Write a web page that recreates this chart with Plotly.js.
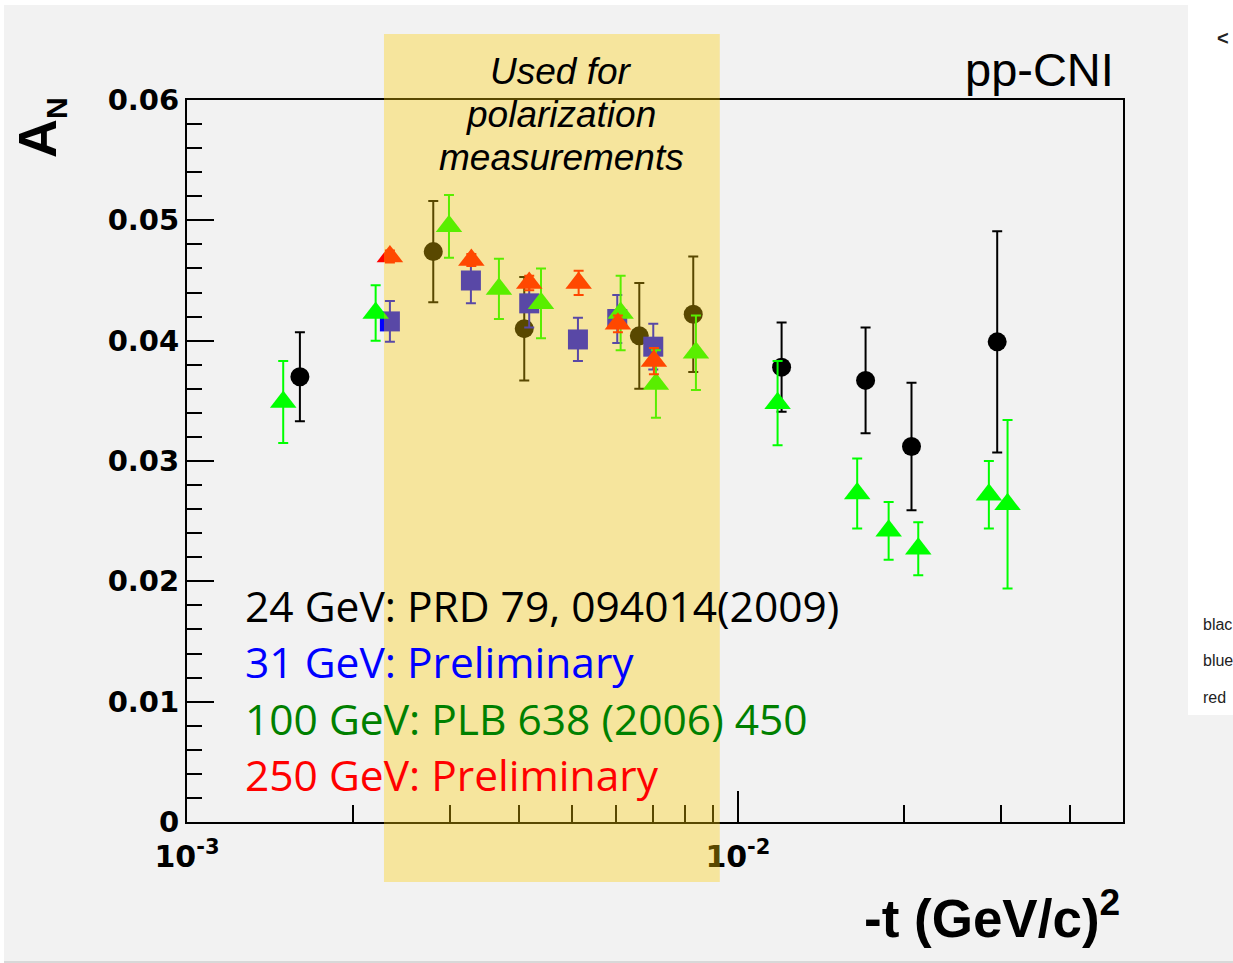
<!DOCTYPE html>
<html>
<head>
<meta charset="utf-8">
<script src="https://cdn.plot.ly/plotly-3.0.1.min.js"></script>
<style>
  html, body { margin: 0; padding: 0; background: #f2f2f2; }
  #chart { width: 1233px; height: 963px; }
</style>
</head>
<body>
<div id="chart"></div>
<script>
// Analysing power A_N in the pp Coulomb-nuclear interference region, vs -t

// 24 GeV (PRD 79, 094014 (2009))
const t24  = [0.001603, 0.002799, 0.004094, 0.006622, 0.008297, 0.012003, 0.017050, 0.020657, 0.029555];
const an24 = [0.0370, 0.0474, 0.0410, 0.0404, 0.0422, 0.0378, 0.0367, 0.0312, 0.0399];
const er24 = [0.0037, 0.0042, 0.0043, 0.0044, 0.0048, 0.0037, 0.0044, 0.0053, 0.0092];

// 31 GeV (preliminary)
const t31  = [0.002335, 0.003276, 0.004180, 0.005124, 0.006039, 0.007020];
const an31 = [0.0416, 0.0450, 0.0431, 0.0401, 0.0418, 0.0395];
const er31 = [0.0017, 0.0019, 0.0020, 0.0018, 0.0020, 0.0019];

// 100 GeV (PLB 638 (2006) 450)
const t100  = [0.001495, 0.002200, 0.002989, 0.003683, 0.004391, 0.006125, 0.007099, 0.008390,
               0.011803, 0.016462, 0.018775, 0.021249, 0.028543, 0.030861];
const an100 = [0.0349, 0.0423, 0.0495, 0.0443, 0.0431, 0.0423, 0.0364, 0.0390,
               0.0348, 0.0273, 0.0242, 0.0227, 0.0272, 0.0264];
const er100 = [0.0034, 0.0023, 0.0026, 0.0025, 0.0029, 0.0031, 0.0028, 0.0031,
               0.0035, 0.0029, 0.0024, 0.0022, 0.0028, 0.0070];

// 250 GeV (preliminary)
const t250  = [0.002335, 0.003282, 0.004180, 0.005139, 0.006056, 0.007039];
const an250 = [0.0470, 0.0467, 0.0448, 0.0448, 0.0414, 0.0383];
const er250 = [0.0005, 0.0005, 0.0006, 0.0010, 0.0007, 0.0011];

// -t window used for the polarization measurements
const bandRange = [0.002278, 0.00927];

// axis ticks
const xMajorVals = [0.001, 0.01];
const xMajorText = ['10<sup>-3</sup>', '10<sup>-2</sup>'];
const xMinorVals = [0.002, 0.003, 0.004, 0.005, 0.006, 0.007, 0.008, 0.009, 0.02, 0.03, 0.04];

const legendLines = [
  { text: '24 GeV: PRD 79, 094014(2009)', color: '#000000' },
  { text: '31 GeV: Preliminary',          color: '#0000ff' },
  { text: '100 GeV: PLB 638 (2006) 450',  color: '#008000' },
  { text: '250 GeV: Preliminary',         color: '#ff0000' }
];
const bandLabel = ['Used for', 'polarization', 'measurements'];
const sideNotes = ['blac', 'blue', 'red'];

// plot frame in pixels
const W = 1233, H = 963;
const L = 187, R = 1123, T = 100, B = 822;
const px = x => (x - L) / (R - L);
const py = y => (B - y) / (B - T);

function series(x, y, err, color, symbol, size) {
  return {
    type: 'scatter', mode: 'markers', x: x, y: y,
    marker: { color: color, symbol: symbol, size: size, line: { width: 0 } },
    error_y: { type: 'data', array: err, visible: true, color: color, thickness: 2, width: 5 },
    hoverinfo: 'x+y', cliponaxis: false
  };
}

const data = [
  series(t24,  an24,  er24,  '#000000', 'circle', 19),
  series(t31,  an31,  er31,  '#0000ff', 'square', 20),
  series(t100, an100, er100, '#00ff00', 'triangle-up', 23),
  series(t250, an250, er250, '#ff0000', 'triangle-up', 23)
];

const tickFont = { family: 'DejaVu Sans', size: 29, color: '#000', weight: 'bold' };

const annotations = [];
legendLines.forEach((l, i) => {
  annotations.push({
    xref: 'paper', yref: 'paper', x: px(243), y: py(605 + i * 56.5),
    xanchor: 'left', yanchor: 'middle', showarrow: false, text: l.text,
    font: { family: 'Open Sans', size: 42.5, color: l.color }
  });
});
bandLabel.forEach((s, i) => {
  annotations.push({
    xref: 'paper', yref: 'paper', x: px(561), y: py(71 + i * 43),
    xanchor: 'center', yanchor: 'middle', showarrow: false, text: s,
    font: { family: 'Liberation Sans', size: 37, color: '#000', style: 'italic' }
  });
});
annotations.push({
  xref: 'paper', yref: 'paper', x: px(1116), y: py(70),
  xanchor: 'right', yanchor: 'middle', showarrow: false, text: 'pp-CNI',
  font: { family: 'Liberation Sans', size: 47, color: '#000' }
});
annotations.push({
  xref: 'paper', yref: 'paper', x: px(1122), y: py(914),
  xanchor: 'right', yanchor: 'middle', showarrow: false, text: '-t (GeV/c)<sup>2</sup>',
  font: { family: 'Liberation Sans', size: 53, color: '#000', weight: 'bold' }
});
annotations.push({
  xref: 'paper', yref: 'paper', x: px(40), y: py(128),
  xanchor: 'center', yanchor: 'middle', showarrow: false, textangle: -90,
  text: 'A<sub><span style="font-size:30px">N</span></sub>',
  font: { family: 'Liberation Sans', size: 54, color: '#000', weight: 'bold' }
});
sideNotes.forEach((s, i) => {
  annotations.push({
    xref: 'paper', yref: 'paper', x: px(1201), y: py(624 + i * 36.5),
    xanchor: 'left', yanchor: 'middle', showarrow: false, text: s,
    font: { family: 'Liberation Sans', size: 16, color: '#222' }
  });
});
annotations.push({
  xref: 'paper', yref: 'paper', x: px(1231), y: py(38),
  xanchor: 'right', yanchor: 'middle', showarrow: false, text: '<',
  font: { family: 'Liberation Sans', size: 20, color: '#222', weight: 'bold' }
});

const shapes = [
  // page margins and side panel
  { type: 'rect', xref: 'paper', yref: 'paper', x0: px(-5), x1: px(1240), y0: py(5), y1: py(-5),
    fillcolor: '#ffffff', line: { width: 0 }, layer: 'below' },
  { type: 'rect', xref: 'paper', yref: 'paper', x0: px(-5), x1: px(4), y0: py(970), y1: py(-5),
    fillcolor: '#ffffff', line: { width: 0 }, layer: 'below' },
  { type: 'rect', xref: 'paper', yref: 'paper', x0: px(1188), x1: px(1240), y0: py(715), y1: py(-5),
    fillcolor: '#ffffff', line: { width: 0 }, layer: 'below' },
  { type: 'line', xref: 'paper', yref: 'paper', x0: px(4), x1: px(1240), y0: py(962), y1: py(962),
    line: { color: '#d8d8d8', width: 2 }, layer: 'below' },
  // highlighted -t window
  { type: 'rect', xref: 'x', yref: 'paper', x0: bandRange[0], x1: bandRange[1], y0: py(882), y1: py(34),
    fillcolor: 'rgba(255,206,0,0.35)', line: { width: 0 }, layer: 'above' }
];

const layout = {
  width: W, height: H,
  margin: { l: L, r: W - R, t: T, b: H - B, pad: 0 },
  paper_bgcolor: '#f2f2f2', plot_bgcolor: '#f2f2f2',
  showlegend: false,
  xaxis: {
    type: 'log', range: [-3, Math.log10(0.05)],
    tickmode: 'array', tickvals: xMajorVals, ticktext: xMajorText,
    ticks: 'inside', ticklen: 31, tickwidth: 2, tickcolor: '#000',
    showline: true, linecolor: '#000', linewidth: 2, mirror: true,
    showgrid: false, zeroline: false, automargin: false,
    tickfont: { family: 'DejaVu Sans', size: 30, color: '#000', weight: 'bold' },
    ticklabelstandoff: 7,
    minor: { tickmode: 'array', tickvals: xMinorVals, ticks: 'inside', ticklen: 17,
             tickwidth: 2, tickcolor: '#000', showgrid: false }
  },
  yaxis: {
    range: [0, 0.06], tickmode: 'linear', tick0: 0, dtick: 0.01,
    ticks: 'inside', ticklen: 27, tickwidth: 2, tickcolor: '#000',
    showline: true, linecolor: '#000', linewidth: 2, mirror: true,
    showgrid: false, zeroline: false, automargin: false,
    tickfont: tickFont, ticklabelstandoff: 0,
    minor: { tick0: 0, dtick: 0.002, ticks: 'inside', ticklen: 15,
             tickwidth: 2, tickcolor: '#000', showgrid: false }
  },
  shapes: shapes,
  annotations: annotations
};

Plotly.newPlot('chart', data, layout, { displayModeBar: false, staticPlot: true });
</script>
</body>
</html>
